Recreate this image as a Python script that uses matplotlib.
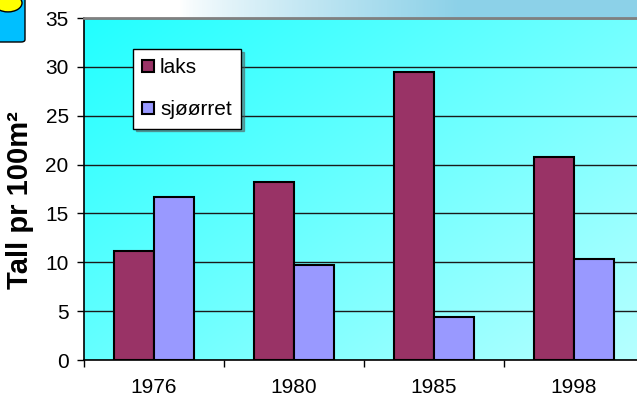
import numpy as np
import matplotlib
matplotlib.use("Agg")
import matplotlib.pyplot as plt
from matplotlib.patches import FancyBboxPatch, Circle

years = ["1976", "1980", "1985", "1998"]
laks = [11.2, 18.2, 29.5, 20.8]
sjoorret = [16.7, 9.7, 4.4, 10.3]

plt.rcParams["font.family"] = ["Liberation Sans", "DejaVu Sans"]

W, H = 637, 405
fig = plt.figure(figsize=(W / 100, H / 100), dpi=100)

# slide background: white, light blue band along the top right
bg = fig.add_axes([0, 0, 1, 1], zorder=-10)
bg.axis("off")
gx = np.linspace(0, W, W)[None, :]
gy = np.linspace(0, H, H)[:, None]
fade = np.clip((gx - 180) / 280, 0, 1) ** 0.8
mask = (gy < 18).astype(float)
top = fade * mask
band = np.array([0.55, 0.82, 0.91])
img = np.ones((H, W, 3)) * (1 - top[..., None]) + band * top[..., None]
bg.imshow(img, extent=[0, 1, 0, 1], aspect="auto", origin="upper")
bg.set_xlim(0, 1)
bg.set_ylim(0, 1)

# little logo in the corner
bg.add_patch(FancyBboxPatch((-10 / W, 1 - 42 / H), 35 / W, 60 / H,
                            boxstyle="round,pad=0,rounding_size=0.006",
                            fc="#00BFFF", ec="black", lw=1, transform=bg.transAxes))
bg.add_patch(Circle((8 / W, 1 - 3 / H), 14 / W, fc="#FFFF00", ec="black", lw=1,
                    transform=bg.transAxes))

ax = fig.add_axes([84 / W, 1 - 360 / H, 560 / W, 342 / H])

# plot area gradient: cyan top-left to pale cyan bottom-right
u = np.linspace(0, 1, 300)[None, :]
v = np.linspace(0, 1, 200)[:, None]
t = np.clip(0.55 * u + 0.45 * (1 - v), 0, 1)
c0 = np.array([0.13, 1.0, 1.0])
c1 = np.array([0.72, 1.0, 1.0])
grad = c0 * (1 - t[..., None]) + c1 * t[..., None]
ax.imshow(grad, extent=[0, 1, 0, 1], transform=ax.transAxes, aspect="auto",
          origin="lower", zorder=0)

x = np.arange(len(years))
w = 40 / 140
ax.bar(x - w / 2, laks, w, color="#993366", edgecolor="black", lw=1.5, label="laks", zorder=3)
ax.bar(x + w / 2, sjoorret, w, color="#9999FF", edgecolor="black", lw=1.5, label="sjøørret", zorder=3)

ax.set_xlim(-0.5, len(years) - 0.5)
ax.set_ylim(0, 35)
ax.set_yticks(range(0, 36, 5))
ax.yaxis.grid(True, color="#1a1a1a", lw=1)
ax.set_axisbelow(True)
ax.set_xticks(x)
ax.set_xticklabels(years, fontsize=15)
ax.set_xticks(np.arange(-0.5, len(years), 1), minor=True)
ax.tick_params(axis="x", which="major", length=0, pad=13)
ax.tick_params(axis="x", which="minor", length=5, width=1)
ax.tick_params(axis="y", length=5, width=1, labelsize=15, pad=6)
ax.spines["top"].set_color("#808080")
ax.spines["top"].set_linewidth(2)
ax.spines["right"].set_visible(False)
ax.spines["left"].set_linewidth(1.2)
ax.spines["bottom"].set_linewidth(1.2)
ax.set_ylabel("Tall pr 100m²", fontsize=21, fontweight="bold")
ax.yaxis.set_label_coords((34 - 84) / 560, (360 - 200) / 342)

leg = ax.legend(loc="upper left", bbox_to_anchor=(49 / 560, 311 / 342), fontsize=15,
                frameon=True, fancybox=False, edgecolor="black", framealpha=1,
                handlelength=0.55, handleheight=0.55, handletextpad=0.3,
                labelspacing=1.1, borderpad=0.45, borderaxespad=0,
                shadow={"ox": 2, "oy": -2, "color": "#555555"})
leg.get_frame().set_linewidth(1)

fig.savefig("out.png", dpi=100)
